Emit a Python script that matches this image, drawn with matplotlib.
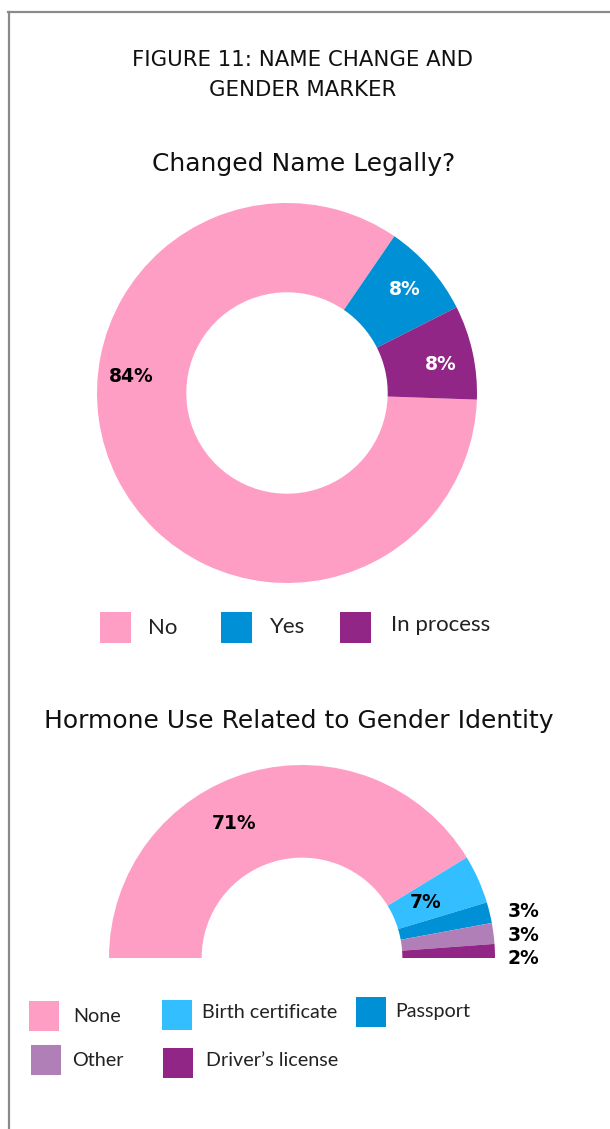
import numpy as np
import matplotlib
matplotlib.use("Agg")
import matplotlib.pyplot as plt
from matplotlib.patches import Rectangle
from matplotlib.lines import Line2D

# data
name_labels = ["No", "Yes", "In process"]
name_values = [84, 8, 8]
name_colors = ["#FF9EC4", "#0090D6", "#922686"]

hormone_labels = ["None", "Birth certificate", "Passport", "Other", "Driver\u2019s license"]
hormone_values = [71, 7, 3, 3, 2]
hormone_colors = ["#FF9EC4", "#33BFFF", "#0090D6", "#B07FB8", "#922686"]

W, H = 610, 1129
fig = plt.figure(figsize=(W / 100, H / 100), dpi=100)
fig.patch.set_facecolor("white")


def fx(x):
    return x / W


def fy(y):
    return 1 - y / H


def box(cx, cy, rx, ry_top, ry_bot):
    return [fx(cx - rx), fy(cy + ry_bot), 2 * rx / W, (ry_top + ry_bot) / H]


# frame
fig.add_artist(Line2D([fx(8.5), fx(8.5)], [fy(12), fy(H)], color="#8a8a8a", lw=1.6))
fig.add_artist(Line2D([fx(8), 1], [fy(12), fy(12)], color="#8a8a8a", lw=1.6))

title_font = "DejaVu Sans"
fig.text(fx(303), fy(60), "FIGURE 11: NAME CHANGE AND", ha="center", va="center",
         fontsize=15.3, family=title_font, color="#111111")
fig.text(fx(303), fy(90), "GENDER MARKER", ha="center", va="center",
         fontsize=15.3, family=title_font, color="#111111")
fig.text(fx(304), fy(164), "Changed Name Legally?", ha="center", va="center",
         fontsize=18, family=title_font, color="#111111")
fig.text(fx(299), fy(721), "Hormone Use Related to Gender Identity", ha="center", va="center",
         fontsize=18, family=title_font, color="#111111")

pct_kw = dict(ha="center", va="center", fontsize=13.5, fontweight="bold", family="DejaVu Sans")

# donut
ax1 = fig.add_axes(box(287, 393, 190, 190, 190))
wedges1, _ = ax1.pie(name_values, colors=name_colors, startangle=-2, counterclock=False,
                     radius=1, wedgeprops=dict(width=0.47, linewidth=0))
ax1.set_xlim(-1, 1)
ax1.set_ylim(-1, 1)
ax1.set_aspect("equal")
ax1.axis("off")
label_shift = [-33, 0, -2]
label_color = ["black", "white", "white"]
for w, v, sh, c in zip(wedges1, name_values, label_shift, label_color):
    a = np.deg2rad((w.theta1 + w.theta2) / 2 + sh)
    ax1.text(0.825 * np.cos(a), 0.825 * np.sin(a), f"{v}%", color=c, **pct_kw)

# half donut
ax2 = fig.add_axes(box(302, 958, 193, 193, 0))
vals = hormone_values + [sum(hormone_values)]
cols = hormone_colors + ["none"]
wedges2, _ = ax2.pie(vals, colors=cols, startangle=180, counterclock=False,
                     radius=1, wedgeprops=dict(width=0.48, linewidth=0))
ax2.set_xlim(-1, 1)
ax2.set_ylim(0, 1)
ax2.set_aspect("equal")
ax2.axis("off")
for i, (w, v) in enumerate(zip(wedges2[:2], hormone_values[:2])):
    mid = (w.theta1 + w.theta2) / 2 + (11 if i == 0 else 0)
    a = np.deg2rad(mid)
    r = 0.78 if i == 0 else 0.70
    ax2.text(r * np.cos(a), r * np.sin(a), f"{v}%", **pct_kw)
outside_y = [0.24, 0.115, 0.0]
for v, yy in zip(hormone_values[2:], outside_y):
    ax2.text(1.065, yy, f"{v}%", ha="left", va="center", fontsize=13.5,
             fontweight="bold", family="DejaVu Sans", clip_on=False)

# legends


def legend_item(x0, y0, size, color, label, tx, ty, fs):
    fig.add_artist(Rectangle((fx(x0), fy(y0 + size)), size / W, size / H,
                             facecolor=color, edgecolor="none", transform=fig.transFigure))
    fig.text(fx(tx), fy(ty), label, ha="left", va="center", fontsize=fs,
             family="Lato", color="#222222")


legend1_pos = [(100, 612, 148, 628), (221, 612, 270, 627), (340, 612, 391, 625)]
for (x0, y0, tx, ty), c, lab in zip(legend1_pos, name_colors, name_labels):
    legend_item(x0, y0, 31, c, lab, tx, ty, 16)

legend2_pos = [(29, 1001, 73, 1017), (162, 1000, 202, 1013), (356, 997, 395, 1011),
               (31, 1045, 72, 1060), (163, 1048, 206, 1060)]
for (x0, y0, tx, ty), c, lab in zip(legend2_pos, hormone_colors, hormone_labels):
    legend_item(x0, y0, 30, c, lab, tx, ty, 14.2)

fig.savefig("out.png", dpi=100, facecolor="white")
